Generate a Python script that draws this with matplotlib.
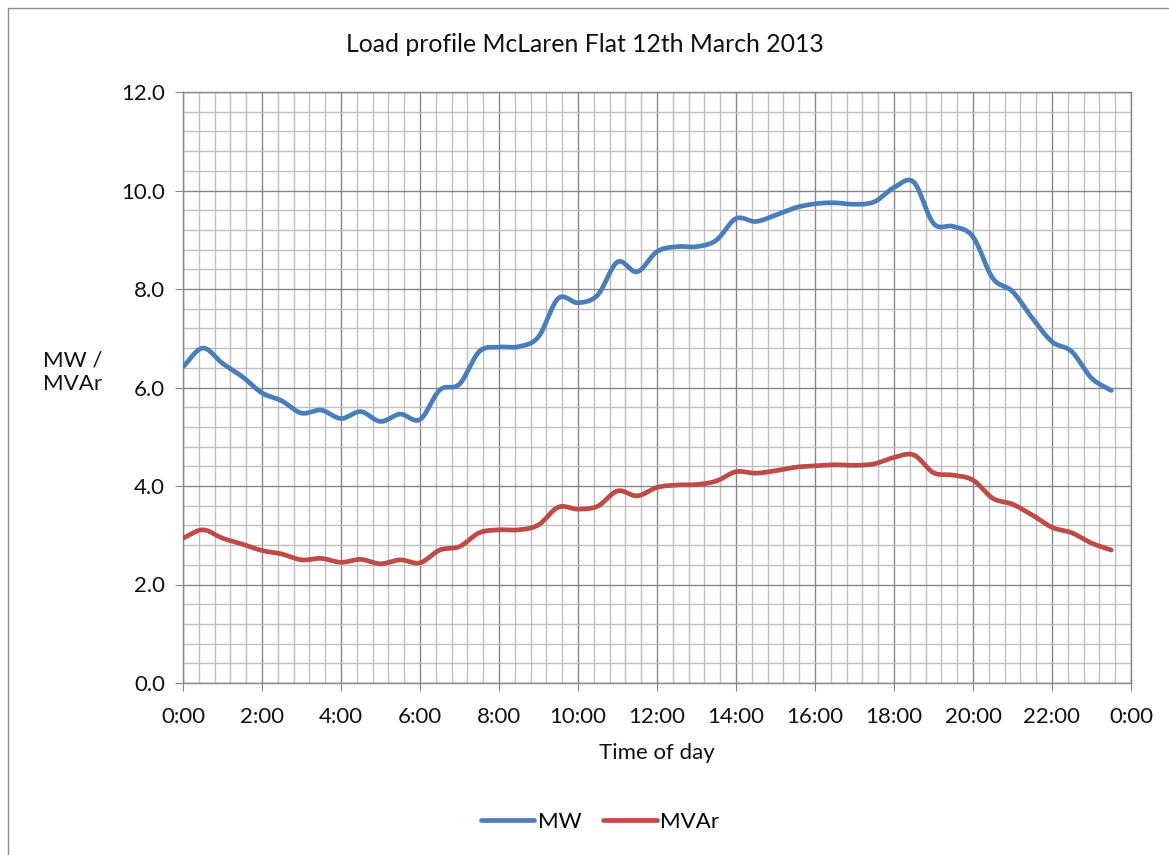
import numpy as np
import matplotlib
matplotlib.use("Agg")
import matplotlib.pyplot as plt
from matplotlib.ticker import MultipleLocator, FuncFormatter
from matplotlib.patches import Rectangle

plt.rcParams['font.family'] = ['Lato', 'DejaVu Sans']

# half-hourly readings, 0:00 .. 23:30
hours = np.arange(48) * 0.5
mw = [6.42, 6.80, 6.49, 6.22, 5.89, 5.73, 5.48, 5.54, 5.37, 5.51, 5.31, 5.46,
      5.35, 5.95, 6.07, 6.73, 6.82, 6.83, 7.03, 7.81, 7.72, 7.88, 8.55, 8.35,
      8.76, 8.86, 8.86, 8.99, 9.43, 9.37, 9.50, 9.65, 9.73, 9.75, 9.72, 9.77,
      10.06, 10.17, 9.33, 9.27, 9.06, 8.22, 7.95, 7.41, 6.93, 6.73, 6.19, 5.94]
mvar = [2.94, 3.11, 2.94, 2.82, 2.69, 2.62, 2.50, 2.53, 2.45, 2.51, 2.42, 2.50,
        2.44, 2.70, 2.77, 3.05, 3.11, 3.11, 3.21, 3.57, 3.53, 3.59, 3.90, 3.80,
        3.97, 4.02, 4.03, 4.10, 4.29, 4.26, 4.31, 4.38, 4.41, 4.43, 4.42, 4.45,
        4.58, 4.63, 4.27, 4.22, 4.12, 3.75, 3.63, 3.41, 3.16, 3.05, 2.84, 2.70]


def smooth(x, y, n=12):
    # catmull-rom curve through the points, like excel's smoothed line
    x = np.asarray(x, float)
    y = np.asarray(y, float)
    px = np.concatenate([[2 * x[0] - x[1]], x, [2 * x[-1] - x[-2]]])
    py = np.concatenate([[2 * y[0] - y[1]], y, [2 * y[-1] - y[-2]]])
    t = np.linspace(0, 1, n, endpoint=False)
    xs, ys = [], []
    for i in range(1, len(px) - 2):
        for p, out in ((px, xs), (py, ys)):
            p0, p1, p2, p3 = p[i - 1], p[i], p[i + 1], p[i + 2]
            out.extend(0.5 * (2 * p1 + (-p0 + p2) * t
                              + (2 * p0 - 5 * p1 + 4 * p2 - p3) * t ** 2
                              + (-p0 + 3 * p1 - 3 * p2 + p3) * t ** 3))
    xs.append(x[-1])
    ys.append(y[-1])
    return np.array(xs), np.array(ys)


fig = plt.figure(figsize=(11.69, 8.55), dpi=100)
ax = fig.add_axes([183 / 1169, 1 - 683 / 855, (1131 - 183) / 1169, (683 - 92) / 855])

fig.patches.append(Rectangle((8 / 1169, -0.1), 1.2, 1 - 8 / 855 + 0.1,
                             transform=fig.transFigure, fill=False,
                             edgecolor='#8c8c8c', lw=1.0))

sx, sy = smooth(hours, mw)
ax.plot(sx, sy, color='#4a7ebb', lw=3.4, solid_capstyle='round', label='MW', zorder=3)
sx, sy = smooth(hours, mvar)
ax.plot(sx, sy, color='#be4b48', lw=3.4, solid_capstyle='round', label='MVAr', zorder=3)

ax.set_xlim(0, 24)
ax.set_ylim(0, 12)
ax.xaxis.set_major_locator(MultipleLocator(2))
ax.xaxis.set_minor_locator(MultipleLocator(0.4))
ax.yaxis.set_major_locator(MultipleLocator(2))
ax.yaxis.set_minor_locator(MultipleLocator(0.4))
ax.xaxis.set_major_formatter(FuncFormatter(lambda v, p: '%d:00' % (int(round(v)) % 24)))
ax.yaxis.set_major_formatter(FuncFormatter(lambda v, p: '%.1f' % v))

ax.grid(which='minor', color='#bfbfbf', lw=1.0)
ax.grid(which='major', color='#868686', lw=1.0)
ax.set_axisbelow(True)
for s in ax.spines.values():
    s.set_color('#868686')
    s.set_linewidth(1.0)
ax.tick_params(which='major', length=6, color='#868686', labelsize=16, labelcolor='#111111')
ax.tick_params(axis='x', pad=11)
ax.tick_params(axis='y', pad=7)
ax.tick_params(which='minor', length=0)

fig.text(585 / 1169, 1 - 45 / 855, 'Load profile McLaren Flat 12th March 2013',
         fontsize=17.8, ha='center', va='center', color='#111111')
fig.text(657 / 1169, 1 - 753 / 855, 'Time of day', fontsize=16, ha='center',
         va='center', color='#111111')
fig.text(43 / 1169, 1 - 372 / 855, 'MW /\nMVAr', fontsize=16, ha='left', va='center',
         linespacing=1.25, color='#111111')

leg = fig.legend(loc='center', bbox_to_anchor=(600 / 1169, 1 - 822 / 855), ncol=2,
                 frameon=False, fontsize=16, handlelength=2.4, handletextpad=0.15,
                 columnspacing=1.0)

fig.savefig('out.png', dpi=100)
